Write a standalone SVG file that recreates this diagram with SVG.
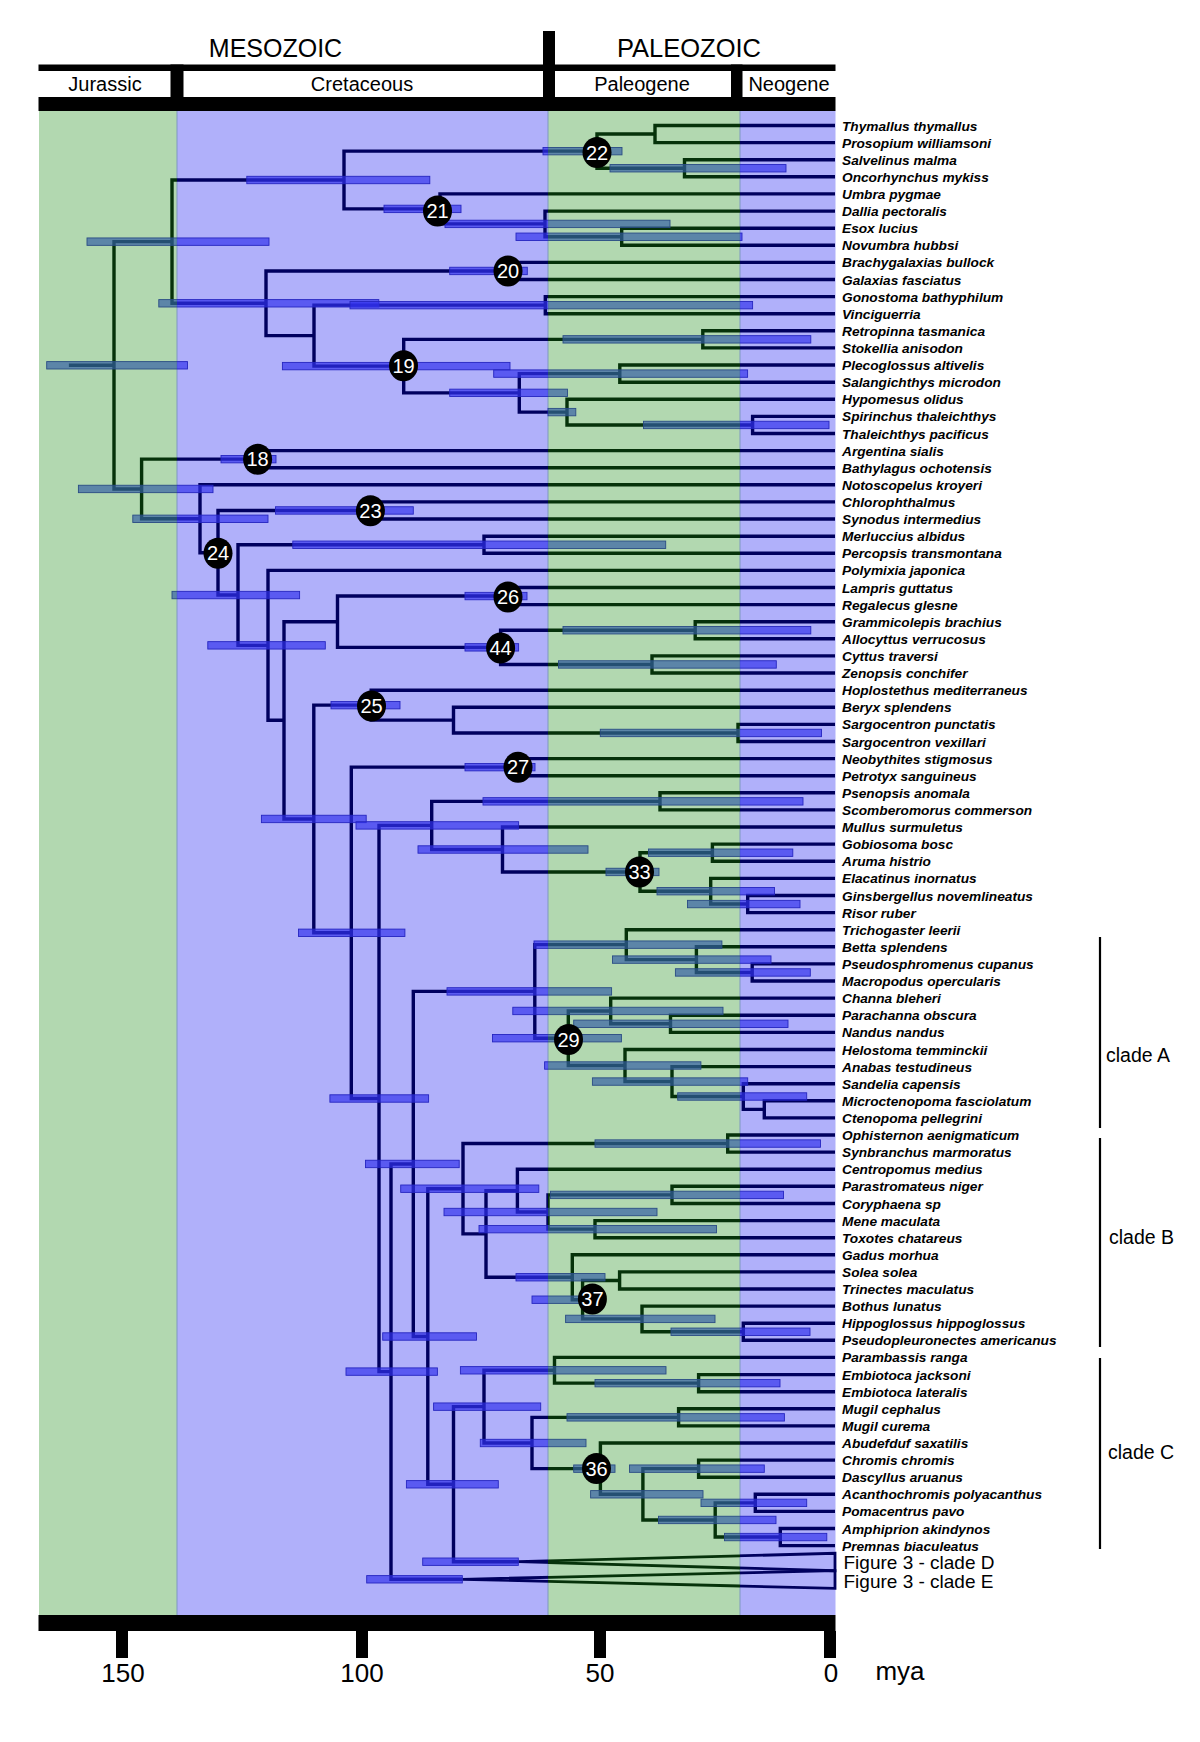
<svg xmlns="http://www.w3.org/2000/svg" xmlns:xlink="http://www.w3.org/1999/xlink" width="1200" height="1742" viewBox="0 0 1200 1742">
<style>
text { font-family: "Liberation Sans", Arial, sans-serif; }
.hdr { font-size: 25px; text-anchor: middle; }
.per { font-size: 20px; text-anchor: middle; }
.ax { font-size: 26px; text-anchor: middle; }
.sp { font-size: 13.7px; font-style: italic; font-weight: bold; }
.cl { font-size: 19.5px; }
.fig { font-size: 19px; }
.nl ellipse { fill: #000; }
.nl text { fill: #fff; font-size: 20px; text-anchor: middle; }
.blk { fill: #000; }
</style>
<defs>
<clipPath id="clipG"><rect x="0" y="0" width="177" height="1742"/><rect x="548" y="0" width="192" height="1742"/></clipPath>
<clipPath id="clipB"><rect x="177" y="0" width="371" height="1742"/><rect x="740" y="0" width="460" height="1742"/></clipPath>
</defs>
<rect x="0" y="0" width="1200" height="1742" fill="#fff"/>

<g id="background">
<rect x="39" y="111" width="138" height="1504" fill="#b2d8b0"/>
<rect x="177" y="111" width="371" height="1504" fill="#b0b0fa"/>
<rect x="548" y="111" width="192" height="1504" fill="#b2d8b0"/>
<rect x="740" y="111" width="95.5" height="1504" fill="#b0b0fa"/>
<path d="M177 111V1615M548 111V1615M740 111V1615" stroke="#7f98c0" stroke-width="1"/>
</g>

<g id="timescale-header">
<rect class="blk" x="38.5" y="64.5" width="797" height="6.5"/>
<rect class="blk" x="543" y="31" width="12" height="80"/>
<rect class="blk" x="170.5" y="64.5" width="13" height="46.5"/>
<rect class="blk" x="731" y="64.5" width="11.5" height="46.5"/>
<rect class="blk" x="38.5" y="97" width="797" height="14"/>
<text class="hdr" x="275.5" y="57">MESOZOIC</text>
<text class="hdr" x="689" y="57" style="font-size:25.5px">PALEOZOIC</text>
<text class="per" x="105" y="91">Jurassic</text>
<text class="per" x="362" y="91">Cretaceous</text>
<text class="per" x="642" y="90.5">Paleogene</text>
<text class="per" x="789" y="90.5">Neogene</text>
</g>

<g id="axis">
<rect class="blk" x="38.5" y="1615" width="797" height="16"/>
<rect class="blk" x="116" y="1631" width="12" height="27"/>
<rect class="blk" x="356" y="1631" width="12" height="27"/>
<rect class="blk" x="594" y="1631" width="12" height="27"/>
<rect class="blk" x="824" y="1631" width="12" height="27"/>
<text class="ax" x="123" y="1682">150</text>
<text class="ax" x="362" y="1682">100</text>
<text class="ax" x="600" y="1682">50</text>
<text class="ax" x="831" y="1682">0</text>
<text class="ax" x="900" y="1680">mya</text>
</g>

<g id="connectors" clip-path="url(#clipB)" stroke="#00005e">
<g id="edges" fill="none" stroke-width="3.4" stroke-linejoin="miter">
<path d="M68.9 365.3H114"/>
<path d="M172 241.65H114V488.95H141.6"/>
<path d="M344 180H172V303.3H266"/>
<path d="M835 125.5H655V142.6H835"/>
<path d="M835 159.7H684.5V176.8H835"/>
<path d="M655 134.05H597V168.25H684.5"/>
<path d="M835 228.2H621.7V245.3H835"/>
<path d="M835 211.1H545V236.75H621.7"/>
<path d="M835 193.9H440V223.9H545"/>
<path d="M597 151.15H344V208.9H440"/>
<path d="M835 262.4H508V279.5H835"/>
<path d="M835 296.6H545.3V313.7H835"/>
<path d="M835 330.8H702.8V347.9H835"/>
<path d="M835 365H619.8V382.2H835"/>
<path d="M835 416.4H752.6V433.5H835"/>
<path d="M835 399.3H567V424.95H752.6"/>
<path d="M619.8 373.6H519.3V412.1H567"/>
<path d="M702.8 339.35H403.7V392.85H519.3"/>
<path d="M545.3 305.15H314V366.1H403.7"/>
<path d="M508 270.95H266V335.6H314"/>
<path d="M262 459.15H141.6V518.8H200"/>
<path d="M835 450.6H262V467.7H835"/>
<path d="M835 484.8H200V552.75H218"/>
<path d="M370 510.45H218V595.05H238"/>
<path d="M835 501.9H370V519H835"/>
<path d="M484 544.75H238V645.35H268"/>
<path d="M835 536.2H484V553.3H835"/>
<path d="M835 570.4H268V720.3H284"/>
<path d="M337.5 621.7H284V818.95H313.8"/>
<path d="M508 596.05H337.5V647.35H500.6"/>
<path d="M835 587.5H508V604.6H835"/>
<path d="M695.2 630.25H500.6V664.45H652"/>
<path d="M835 621.7H695.2V638.8H835"/>
<path d="M835 655.9H652V673H835"/>
<path d="M371.2 705.15H313.8V932.8H351.3"/>
<path d="M835 690.2H371.2V720.1H453.5"/>
<path d="M835 707.3H453.5V732.95H738"/>
<path d="M835 724.4H738V741.5H835"/>
<path d="M517.8 767.15H351.3V1098.5H379"/>
<path d="M835 758.6H517.8V775.7H835"/>
<path d="M431.7 825.4H379V1371.6H391"/>
<path d="M660 801.35H431.7V849.5H502.5"/>
<path d="M835 792.8H660V809.9H835"/>
<path d="M835 827H502.5V871.95H640"/>
<path d="M712.4 852.7H640V891.2H710.7"/>
<path d="M835 844.1H712.4V861.3H835"/>
<path d="M835 878.4H710.7V904.05H747.7"/>
<path d="M835 895.5H747.7V912.6H835"/>
<path d="M413.3 1163.95H391V1579.3H462.3"/>
<path d="M534.8 991.4H413.3V1336.5H427.8"/>
<path d="M626.3 944.65H534.8V1038.2H568.3"/>
<path d="M835 929.7H626.3V959.6H696.4"/>
<path d="M835 946.8H696.4V972.45H752.2"/>
<path d="M835 963.9H752.2V981H835"/>
<path d="M610.7 1010.95H568.3V1065.5H625"/>
<path d="M835 998.1H610.7V1023.8H670.5"/>
<path d="M835 1015.2H670.5V1032.4H835"/>
<path d="M835 1049.5H625V1081.55H672"/>
<path d="M835 1066.6H672V1096.5H743.3"/>
<path d="M835 1083.7H743.3V1109.35H764.3"/>
<path d="M835 1100.8H764.3V1117.9H835"/>
<path d="M463 1188.7H427.8V1484.3H453.5"/>
<path d="M727.7 1143.55H463V1233.9H486"/>
<path d="M835 1135H727.7V1152.1H835"/>
<path d="M517.4 1190.6H486V1277.25H572.3"/>
<path d="M835 1169.2H517.4V1212H548"/>
<path d="M672 1194.9H548V1229.15H595"/>
<path d="M835 1186.3H672V1203.5H835"/>
<path d="M835 1220.6H595V1237.7H835"/>
<path d="M835 1254.8H572.3V1299.7H582.6"/>
<path d="M619.6 1280.45H582.6V1318.9H642"/>
<path d="M835 1271.9H619.6V1289H835"/>
<path d="M835 1306.1H642V1331.75H743.3"/>
<path d="M835 1323.2H743.3V1340.3H835"/>
<path d="M484 1406.65H453.5V1561.7H518.3"/>
<path d="M554.5 1370.3H484V1443H532"/>
<path d="M835 1357.4H554.5V1383.15H698.6"/>
<path d="M835 1374.6H698.6V1391.7H835"/>
<path d="M678.6 1417.35H532V1468.65H600.4"/>
<path d="M835 1408.8H678.6V1425.9H835"/>
<path d="M835 1443H600.4V1494.3H642.9"/>
<path d="M698.6 1468.65H642.9V1519.95H715.2"/>
<path d="M835 1460.1H698.6V1477.2H835"/>
<path d="M755.3 1502.85H715.2V1537.05H780.3"/>
<path d="M835 1494.3H755.3V1511.4H835"/>
<path d="M835 1528.5H780.3V1545.6H835"/>
<path d="M518.3 1561.7L835 1553.3V1570.7Z" stroke-width="2.8"/>
<path d="M462.3 1579.3L835 1570.7V1588.3Z" stroke-width="2.8"/>
</g>
</g>
<use xlink:href="#edges" href="#edges" stroke="#06320a" clip-path="url(#clipG)"/>

<g id="hpd" clip-path="url(#clipB)" fill="#3030ec" stroke="#2626c0">
<g id="hpd-bars" fill-opacity="0.68" stroke-width="0.9">
<rect x="46.7" y="361.6" width="140.8" height="7.4"/>
<rect x="87" y="237.95" width="182" height="7.4"/>
<rect x="246.8" y="176.3" width="183" height="7.4"/>
<rect x="543" y="147.45" width="79" height="7.4"/>
<rect x="610" y="164.55" width="176" height="7.4"/>
<rect x="384" y="205.2" width="77" height="7.4"/>
<rect x="445" y="220.2" width="225" height="7.4"/>
<rect x="516" y="233.05" width="226" height="7.4"/>
<rect x="158.8" y="299.6" width="220" height="7.4"/>
<rect x="449.7" y="267.25" width="77.6" height="7.4"/>
<rect x="350" y="301.45" width="402.6" height="7.4"/>
<rect x="282.4" y="362.4" width="227.6" height="7.4"/>
<rect x="563" y="335.65" width="247.8" height="7.4"/>
<rect x="449.7" y="389.15" width="117.8" height="7.4"/>
<rect x="493.7" y="369.9" width="253.9" height="7.4"/>
<rect x="548" y="408.4" width="27.8" height="7.4"/>
<rect x="643.5" y="421.25" width="185.5" height="7.4"/>
<rect x="78.4" y="485.25" width="134.6" height="7.4"/>
<rect x="221" y="455.45" width="55" height="7.4"/>
<rect x="132.8" y="515.1" width="135.2" height="7.4"/>
<rect x="275.5" y="506.75" width="137.8" height="7.4"/>
<rect x="172" y="591.35" width="127.6" height="7.4"/>
<rect x="292.8" y="541.05" width="372.9" height="7.4"/>
<rect x="207.8" y="641.65" width="117.5" height="7.4"/>
<rect x="465" y="592.35" width="62" height="7.4"/>
<rect x="465" y="643.65" width="53.6" height="7.4"/>
<rect x="563" y="626.55" width="247.8" height="7.4"/>
<rect x="558.5" y="660.75" width="217.8" height="7.4"/>
<rect x="261.4" y="815.25" width="104.8" height="7.4"/>
<rect x="331" y="701.45" width="69" height="7.4"/>
<rect x="600.3" y="729.25" width="221.2" height="7.4"/>
<rect x="298.5" y="929.1" width="106.4" height="7.4"/>
<rect x="465" y="763.45" width="70" height="7.4"/>
<rect x="329.9" y="1094.8" width="98.7" height="7.4"/>
<rect x="356" y="821.7" width="162.6" height="7.4"/>
<rect x="483" y="797.65" width="320" height="7.4"/>
<rect x="418" y="845.8" width="170" height="7.4"/>
<rect x="606" y="868.25" width="53" height="7.4"/>
<rect x="648.5" y="849" width="144.3" height="7.4"/>
<rect x="657" y="887.5" width="117.5" height="7.4"/>
<rect x="687.5" y="900.35" width="112.5" height="7.4"/>
<rect x="365.5" y="1160.25" width="93.7" height="7.4"/>
<rect x="346" y="1367.9" width="91.4" height="7.4"/>
<rect x="447" y="987.7" width="164.6" height="7.4"/>
<rect x="534" y="940.95" width="187.9" height="7.4"/>
<rect x="612.5" y="955.9" width="158.5" height="7.4"/>
<rect x="675.4" y="968.75" width="134.9" height="7.4"/>
<rect x="492.5" y="1034.5" width="128.9" height="7.4"/>
<rect x="512.8" y="1007.25" width="210.2" height="7.4"/>
<rect x="573.7" y="1020.1" width="214.3" height="7.4"/>
<rect x="544.6" y="1061.8" width="156.3" height="7.4"/>
<rect x="592.4" y="1077.85" width="155.3" height="7.4"/>
<rect x="677.7" y="1092.8" width="129" height="7.4"/>
<rect x="382.7" y="1332.8" width="93.8" height="7.4"/>
<rect x="400.7" y="1185" width="138.1" height="7.4"/>
<rect x="595" y="1139.85" width="225.5" height="7.4"/>
<rect x="479" y="1225.45" width="237.5" height="7.4"/>
<rect x="444" y="1208.3" width="213" height="7.4"/>
<rect x="550.4" y="1191.2" width="233.1" height="7.4"/>
<rect x="516" y="1273.55" width="89" height="7.4"/>
<rect x="532" y="1296" width="68" height="7.4"/>
<rect x="565.6" y="1315.2" width="149.4" height="7.4"/>
<rect x="671" y="1328.05" width="139" height="7.4"/>
<rect x="406.4" y="1480.6" width="91.9" height="7.4"/>
<rect x="433.6" y="1402.95" width="107.1" height="7.4"/>
<rect x="460.4" y="1366.6" width="205.6" height="7.4"/>
<rect x="595" y="1379.45" width="185" height="7.4"/>
<rect x="480.3" y="1439.3" width="105.7" height="7.4"/>
<rect x="567" y="1413.65" width="217.4" height="7.4"/>
<rect x="573.7" y="1464.95" width="41.3" height="7.4"/>
<rect x="590.6" y="1490.6" width="112.4" height="7.4"/>
<rect x="629.5" y="1464.95" width="134.8" height="7.4"/>
<rect x="658.5" y="1516.25" width="117.5" height="7.4"/>
<rect x="701" y="1499.15" width="105.7" height="7.4"/>
<rect x="724.5" y="1533.35" width="102.3" height="7.4"/>
<rect x="422.7" y="1558" width="95.6" height="7.4"/>
<rect x="366.7" y="1575.6" width="95.6" height="7.4"/>
</g>
</g>
<use xlink:href="#hpd-bars" href="#hpd-bars" fill="#345da4" stroke="#2a4c84" clip-path="url(#clipG)"/>

<g id="node-22" class="nl"><ellipse cx="597" cy="152.5" rx="14.5" ry="15.5"/><text x="597" y="159.5">22</text></g>
<g id="node-21" class="nl"><ellipse cx="437.5" cy="211" rx="14.5" ry="15.5"/><text x="437.5" y="218">21</text></g>
<g id="node-20" class="nl"><ellipse cx="508" cy="271" rx="14.5" ry="15.5"/><text x="508" y="278">20</text></g>
<g id="node-19" class="nl"><ellipse cx="403.5" cy="365.7" rx="14.5" ry="15.5"/><text x="403.5" y="372.7">19</text></g>
<g id="node-18" class="nl"><ellipse cx="257.6" cy="459.3" rx="14.5" ry="15.5"/><text x="257.6" y="466.3">18</text></g>
<g id="node-23" class="nl"><ellipse cx="370.4" cy="510.7" rx="14.5" ry="15.5"/><text x="370.4" y="517.7">23</text></g>
<g id="node-24" class="nl"><ellipse cx="218" cy="553.3" rx="14.5" ry="15.5"/><text x="218" y="560.3">24</text></g>
<g id="node-26" class="nl"><ellipse cx="508" cy="597" rx="14.5" ry="15.5"/><text x="508" y="604">26</text></g>
<g id="node-44" class="nl"><ellipse cx="500.6" cy="648" rx="14.5" ry="15.5"/><text x="500.6" y="655">44</text></g>
<g id="node-25" class="nl"><ellipse cx="371.5" cy="706" rx="14.5" ry="15.5"/><text x="371.5" y="713">25</text></g>
<g id="node-27" class="nl"><ellipse cx="518" cy="767.3" rx="14.5" ry="15.5"/><text x="518" y="774.3">27</text></g>
<g id="node-33" class="nl"><ellipse cx="639.5" cy="872" rx="14.5" ry="15.5"/><text x="639.5" y="879">33</text></g>
<g id="node-29" class="nl"><ellipse cx="568.5" cy="1039.5" rx="14.5" ry="15.5"/><text x="568.5" y="1046.5">29</text></g>
<g id="node-37" class="nl"><ellipse cx="592.4" cy="1299" rx="14.5" ry="15.5"/><text x="592.4" y="1306">37</text></g>
<g id="node-36" class="nl"><ellipse cx="596.5" cy="1468.5" rx="14.5" ry="15.5"/><text x="596.5" y="1475.5">36</text></g>

<g id="tips" class="sp">
<text id="tip01" x="842" y="130.5">Thymallus thymallus</text>
<text id="tip02" x="842" y="147.6">Prosopium williamsoni</text>
<text id="tip03" x="842" y="164.7">Salvelinus malma</text>
<text id="tip04" x="842" y="181.8">Oncorhynchus mykiss</text>
<text id="tip05" x="842" y="198.9">Umbra pygmae</text>
<text id="tip06" x="842" y="216.1">Dallia pectoralis</text>
<text id="tip07" x="842" y="233.2">Esox lucius</text>
<text id="tip08" x="842" y="250.3">Novumbra hubbsi</text>
<text id="tip09" x="842" y="267.4">Brachygalaxias bullock</text>
<text id="tip10" x="842" y="284.5">Galaxias fasciatus</text>
<text id="tip11" x="842" y="301.6">Gonostoma bathyphilum</text>
<text id="tip12" x="842" y="318.7">Vinciguerria</text>
<text id="tip13" x="842" y="335.8">Retropinna tasmanica</text>
<text id="tip14" x="842" y="352.9">Stokellia anisodon</text>
<text id="tip15" x="842" y="370">Plecoglossus altivelis</text>
<text id="tip16" x="842" y="387.2">Salangichthys microdon</text>
<text id="tip17" x="842" y="404.3">Hypomesus olidus</text>
<text id="tip18" x="842" y="421.4">Spirinchus thaleichthys</text>
<text id="tip19" x="842" y="438.5">Thaleichthys pacificus</text>
<text id="tip20" x="842" y="455.6">Argentina sialis</text>
<text id="tip21" x="842" y="472.7">Bathylagus ochotensis</text>
<text id="tip22" x="842" y="489.8">Notoscopelus kroyeri</text>
<text id="tip23" x="842" y="506.9">Chlorophthalmus</text>
<text id="tip24" x="842" y="524">Synodus intermedius</text>
<text id="tip25" x="842" y="541.2">Merluccius albidus</text>
<text id="tip26" x="842" y="558.3">Percopsis transmontana</text>
<text id="tip27" x="842" y="575.4">Polymixia japonica</text>
<text id="tip28" x="842" y="592.5">Lampris guttatus</text>
<text id="tip29" x="842" y="609.6">Regalecus glesne</text>
<text id="tip30" x="842" y="626.7">Grammicolepis brachius</text>
<text id="tip31" x="842" y="643.8">Allocyttus verrucosus</text>
<text id="tip32" x="842" y="660.9">Cyttus traversi</text>
<text id="tip33" x="842" y="678">Zenopsis conchifer</text>
<text id="tip34" x="842" y="695.2">Hoplostethus mediterraneus</text>
<text id="tip35" x="842" y="712.3">Beryx splendens</text>
<text id="tip36" x="842" y="729.4">Sargocentron punctatis</text>
<text id="tip37" x="842" y="746.5">Sargocentron vexillari</text>
<text id="tip38" x="842" y="763.6">Neobythites stigmosus</text>
<text id="tip39" x="842" y="780.7">Petrotyx sanguineus</text>
<text id="tip40" x="842" y="797.8">Psenopsis anomala</text>
<text id="tip41" x="842" y="814.9">Scomberomorus commerson</text>
<text id="tip42" x="842" y="832">Mullus surmuletus</text>
<text id="tip43" x="842" y="849.1">Gobiosoma bosc</text>
<text id="tip44" x="842" y="866.3">Aruma histrio</text>
<text id="tip45" x="842" y="883.4">Elacatinus inornatus</text>
<text id="tip46" x="842" y="900.5">Ginsbergellus novemlineatus</text>
<text id="tip47" x="842" y="917.6">Risor ruber</text>
<text id="tip48" x="842" y="934.7">Trichogaster leerii</text>
<text id="tip49" x="842" y="951.8">Betta splendens</text>
<text id="tip50" x="842" y="968.9">Pseudosphromenus cupanus</text>
<text id="tip51" x="842" y="986">Macropodus opercularis</text>
<text id="tip52" x="842" y="1003.1">Channa bleheri</text>
<text id="tip53" x="842" y="1020.2">Parachanna obscura</text>
<text id="tip54" x="842" y="1037.4">Nandus nandus</text>
<text id="tip55" x="842" y="1054.5">Helostoma temminckii</text>
<text id="tip56" x="842" y="1071.6">Anabas testudineus</text>
<text id="tip57" x="842" y="1088.7">Sandelia capensis</text>
<text id="tip58" x="842" y="1105.8">Microctenopoma fasciolatum</text>
<text id="tip59" x="842" y="1122.9">Ctenopoma pellegrini</text>
<text id="tip60" x="842" y="1140">Ophisternon aenigmaticum</text>
<text id="tip61" x="842" y="1157.1">Synbranchus marmoratus</text>
<text id="tip62" x="842" y="1174.2">Centropomus medius</text>
<text id="tip63" x="842" y="1191.3">Parastromateus niger</text>
<text id="tip64" x="842" y="1208.5">Coryphaena sp</text>
<text id="tip65" x="842" y="1225.6">Mene maculata</text>
<text id="tip66" x="842" y="1242.7">Toxotes chatareus</text>
<text id="tip67" x="842" y="1259.8">Gadus morhua</text>
<text id="tip68" x="842" y="1276.9">Solea solea</text>
<text id="tip69" x="842" y="1294">Trinectes maculatus</text>
<text id="tip70" x="842" y="1311.1">Bothus lunatus</text>
<text id="tip71" x="842" y="1328.2">Hippoglossus hippoglossus</text>
<text id="tip72" x="842" y="1345.3">Pseudopleuronectes americanus</text>
<text id="tip73" x="842" y="1362.4">Parambassis ranga</text>
<text id="tip74" x="842" y="1379.6">Embiotoca jacksoni</text>
<text id="tip75" x="842" y="1396.7">Embiotoca lateralis</text>
<text id="tip76" x="842" y="1413.8">Mugil cephalus</text>
<text id="tip77" x="842" y="1430.9">Mugil curema</text>
<text id="tip78" x="842" y="1448">Abudefduf saxatilis</text>
<text id="tip79" x="842" y="1465.1">Chromis chromis</text>
<text id="tip80" x="842" y="1482.2">Dascyllus aruanus</text>
<text id="tip81" x="842" y="1499.3">Acanthochromis polyacanthus</text>
<text id="tip82" x="842" y="1516.4">Pomacentrus pavo</text>
<text id="tip83" x="842" y="1533.5">Amphiprion akindynos</text>
<text id="tip84" x="842" y="1550.6">Premnas biaculeatus</text>
</g>

<g id="collapsed-clades" class="fig">
<text x="843.5" y="1568.5">Figure 3 - clade D</text>
<text x="843.5" y="1587.5">Figure 3 - clade E</text>
</g>

<g id="clade-brackets">
<path d="M1100 937V1128M1100 1138V1347M1100 1358V1549" stroke="#000" stroke-width="2.2" fill="none"/>
<text class="cl" x="1106" y="1062">clade A</text>
<text class="cl" x="1109" y="1244">clade B</text>
<text class="cl" x="1108" y="1459">clade C</text>
</g>
</svg>
